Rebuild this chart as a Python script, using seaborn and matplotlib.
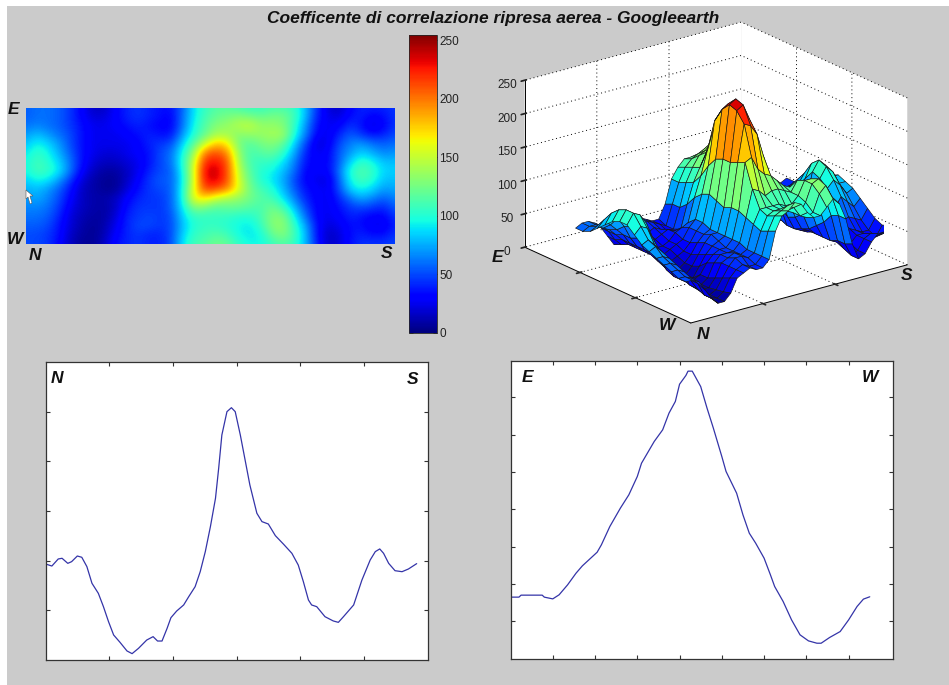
import numpy as np
import pandas as pd
import matplotlib
matplotlib.use('Agg')
import matplotlib.pyplot as plt
import seaborn as sns
from matplotlib.patches import Rectangle, Polygon

W, H = 949, 685

# correlation map, rows E -> W, columns N -> S
corr_rows = [
    [55, 60, 60, 55, 45, 30, 15, 15, 30, 40, 45, 40, 35, 35, 55, 90, 105, 115, 115, 110, 105, 105, 110, 110, 105, 80, 45, 20, 15, 30, 40, 40, 40, 45],
    [55, 60, 60, 55, 45, 30, 20, 20, 30, 40, 45, 40, 35, 30, 60, 90, 110, 120, 125, 130, 125, 120, 125, 125, 110, 80, 40, 25, 20, 35, 40, 30, 35, 45],
    [60, 65, 60, 55, 45, 35, 25, 25, 30, 35, 40, 35, 30, 30, 60, 95, 115, 130, 135, 145, 150, 135, 135, 130, 105, 70, 35, 25, 30, 45, 35, 20, 30, 45],
    [70, 80, 70, 60, 50, 35, 25, 25, 25, 30, 35, 40, 35, 35, 70, 100, 120, 140, 140, 130, 135, 135, 140, 140, 100, 65, 30, 25, 40, 55, 45, 35, 40, 50],
    [80, 95, 85, 70, 50, 35, 25, 25, 25, 25, 30, 40, 45, 50, 85, 115, 150, 180, 170, 125, 115, 125, 130, 120, 85, 50, 20, 25, 50, 65, 70, 60, 55, 60],
    [90, 105, 95, 75, 55, 35, 25, 20, 20, 25, 30, 35, 50, 60, 95, 135, 200, 212, 195, 135, 110, 115, 120, 105, 75, 40, 25, 30, 55, 70, 85, 75, 65, 70],
    [95, 110, 100, 85, 60, 35, 20, 15, 15, 20, 25, 35, 50, 60, 100, 150, 222, 228, 212, 140, 110, 105, 105, 90, 65, 35, 30, 30, 55, 85, 105, 95, 80, 80],
    [95, 110, 105, 90, 60, 30, 15, 8, 8, 15, 25, 40, 50, 55, 95, 155, 234, 240, 212, 150, 115, 100, 95, 80, 60, 30, 30, 30, 60, 100, 115, 105, 85, 85],
    [85, 95, 90, 70, 45, 20, 10, 5, 5, 15, 30, 45, 55, 55, 90, 155, 230, 236, 212, 155, 120, 100, 90, 75, 50, 30, 25, 20, 55, 95, 110, 100, 80, 80],
    [75, 80, 70, 55, 35, 15, 10, 5, 5, 20, 35, 45, 50, 55, 95, 160, 215, 210, 195, 160, 125, 110, 100, 80, 55, 35, 30, 25, 50, 85, 95, 85, 70, 75],
    [70, 75, 65, 50, 30, 15, 10, 10, 15, 30, 40, 45, 45, 55, 95, 165, 170, 150, 140, 135, 125, 115, 110, 90, 65, 40, 30, 25, 40, 60, 75, 65, 55, 65],
    [65, 65, 60, 45, 25, 15, 10, 8, 15, 35, 45, 45, 45, 55, 90, 130, 125, 115, 120, 120, 115, 110, 125, 110, 80, 50, 30, 25, 35, 45, 50, 45, 40, 55],
    [60, 60, 55, 40, 20, 12, 8, 8, 20, 40, 45, 50, 45, 50, 85, 105, 105, 105, 105, 100, 100, 110, 130, 130, 95, 60, 30, 25, 30, 40, 35, 30, 30, 45],
    [55, 55, 50, 35, 20, 10, 5, 10, 25, 40, 50, 50, 45, 50, 80, 100, 105, 105, 100, 95, 90, 105, 130, 135, 105, 75, 35, 20, 25, 35, 35, 25, 25, 40],
    [50, 50, 45, 35, 15, 8, 5, 12, 30, 40, 45, 40, 40, 50, 85, 105, 110, 115, 110, 95, 90, 95, 120, 130, 110, 80, 35, 15, 20, 35, 40, 35, 35, 45],
    [50, 50, 45, 30, 15, 5, 5, 15, 35, 40, 45, 40, 40, 50, 90, 110, 115, 125, 120, 105, 95, 95, 105, 115, 105, 80, 40, 15, 20, 35, 45, 45, 45, 50],
]
cbar_ticks = [0, 50, 100, 150, 200, 250]
z_ticks = [0, 50, 100, 150, 200, 250]

# profile N -> S
ns_x = [0, 10, 20, 26, 35, 41, 50, 57, 65, 73, 83, 91, 99, 107, 117, 128, 136, 146, 159, 169, 176, 183, 191, 197,
        206, 217, 225, 235, 243, 251, 259, 267, 272, 277, 285, 292, 298, 306, 314, 321, 332, 340, 350, 361, 374,
        387, 397, 405, 413, 418, 426, 439, 452, 460, 468, 484, 497, 510, 518, 525, 531, 539, 549, 560, 570, 583]
ns_y = [96.7, 94.6, 101.7, 102.4, 97.3, 99, 104.7, 103.4, 94, 77.2, 67.1, 53.7, 38.6, 25.2, 17.8, 9.1, 6.4, 11.7,
        20.1, 23.5, 19.1, 19.1, 31.9, 42.6, 49.3, 55.4, 63.8, 73.8, 88.9, 109.1, 134.2, 162.8, 193, 226.5, 250,
        254, 250, 226.5, 199.7, 176.2, 147.7, 139.3, 136.9, 125.2, 116.5, 107.4, 95.6, 78.9, 60.4, 55.4, 53.7,
        43.6, 39.3, 37.9, 43.6, 55.4, 80.5, 100.7, 109.1, 111.8, 107.4, 97.3, 89.9, 88.9, 91.6, 97]

# profile E -> W
ew_x = [0, 4, 5, 15, 16, 20, 23, 27, 31, 34, 41, 43, 47, 52, 56, 60, 62, 68, 72, 75, 78, 80, 83, 84, 86, 90, 93,
        96, 100, 102, 107, 110, 113, 116, 120, 123, 125, 129, 133, 137, 141, 145, 147, 151, 156, 160, 164, 167, 170]
ew_y = [52.6, 52.6, 54.3, 54.3, 52.6, 51.1, 54.6, 63.1, 73.1, 79.4, 91.1, 97.4, 113.1, 128.9, 140.3, 156, 167.4,
        186, 196, 210.3, 220.3, 235.1, 242.6, 246.3, 246.3, 233.1, 214.6, 197.4, 173.1, 160.3, 141.7, 123.1, 107.4,
        98.9, 86, 71.7, 61.7, 48.9, 33.1, 20.3, 15.1, 13.1, 13.1, 18, 23.1, 33.1, 44.6, 50.9, 52.9]

sns.set_theme(style='ticks')
plt.rcParams['font.family'] = ['Liberation Sans', 'DejaVu Sans']
plt.rcParams['grid.linestyle'] = (0, (1, 3))
plt.rcParams['grid.color'] = 'black'
plt.rcParams['grid.linewidth'] = 0.7

jet = matplotlib.colormaps['jet']
grey = '#cbcbcb'
corr = np.array(corr_rows, dtype=float)

fig = plt.figure(figsize=(W / 100, H / 100), dpi=100, facecolor='white')
fig.add_artist(Rectangle((7 / W, 0), 1, 1 - 6 / H, transform=fig.transFigure, facecolor=grey, edgecolor='none',
                         zorder=-5))


def px_axes(x0, y0, x1, y1, **kw):
    return fig.add_axes([x0 / W, 1 - y1 / H, (x1 - x0) / W, (y1 - y0) / H], **kw)


def label(x, y, s, size=12.5):
    fig.text(x / W, 1 - y / H, s, ha='center', va='center', fontsize=size, fontweight='bold',
             fontstyle='italic', color='#111111')


# heat map
ax_map = px_axes(26, 107.5, 395, 244.5)
im = ax_map.imshow(corr, cmap=jet, vmin=0, vmax=255, aspect='auto', interpolation='bicubic')
ax_map.set_xlim(0, corr.shape[1] - 1)
ax_map.set_ylim(corr.shape[0] - 1, 0)
ax_map.axis('off')

# colour bar
ax_cb = px_axes(409, 34.5, 437, 332.5)
cb = fig.colorbar(im, cax=ax_cb, ticks=cbar_ticks)
cb.outline.set_linewidth(0.6)
cb.ax.tick_params(direction='in', left=True, right=True, length=3, width=0.6, labelsize=8.5, pad=1.5,
                  labelcolor='#222222')

# surface
ax3 = fig.add_axes([491.3 / W, 1 - 349.7 / H, 440 / W, 345 / H], projection='3d', proj_type='ortho',
                   facecolor='none')
rows = np.arange(corr.shape[0])
cols = np.arange(corr.shape[1])
Y, X = np.meshgrid(cols, rows)
ax3.plot_surface(X, Y, corr, cmap=jet, vmin=0, vmax=255, rstride=1, cstride=1, edgecolor='#161616',
                 linewidth=0.45, shade=False, antialiased=True)
ax3.view_init(elev=20.5, azim=-37.5)
ax3.set_box_aspect((1, 1, 0.653), zoom=1.196)
ax3.set_xlim(-5.87, 16.69)
ax3.set_ylim(-1.2, 32.65)
ax3.set_zlim(0, 250)
ax3.set_xticks([1.65, 9.17])
ax3.set_yticks([10.08, 21.37])
ax3.set_zticks(z_ticks)
ax3.set_xticklabels([])
ax3.set_yticklabels([])
ax3.zaxis.set_ticks_position('lower')
ax3.tick_params(axis='z', labelsize=8.5, pad=-2, colors='#222222')
for axis in (ax3.xaxis, ax3.yaxis, ax3.zaxis):
    axis.set_pane_color((1, 1, 1, 1))
    axis.pane.set_edgecolor('none')
    axis.line.set_color('black')
    axis.line.set_linewidth(0.7)

# profiles
ax_ns = px_axes(45.5, 362, 427.5, 660)
sns.lineplot(data=pd.DataFrame({'pos': ns_x, 'val': ns_y}), x='pos', y='val', ax=ax_ns, color='#3434a8',
             linewidth=0.9, estimator=None, sort=False)
ax_ns.set_xlim(0, 600)
ax_ns.set_ylim(0, 300)
ax_ns.set_xticks([100, 200, 300, 400, 500])
ax_ns.set_yticks([50, 100, 150, 200, 250])

ax_ew = px_axes(510.5, 361, 893, 658.5)
sns.lineplot(data=pd.DataFrame({'pos': ew_x, 'val': ew_y}), x='pos', y='val', ax=ax_ew, color='#3434a8',
             linewidth=0.9, estimator=None, sort=False)
ax_ew.set_xlim(0, 181)
ax_ew.set_ylim(0, 255)
ax_ew.set_xticks([20, 40, 60, 80, 100, 120, 140, 160])
ax_ew.set_yticks([32, 64, 96, 128, 160, 192, 224])

for ax in (ax_ns, ax_ew):
    ax.set_xlabel('')
    ax.set_ylabel('')
    ax.set_facecolor('white')
    ax.tick_params(direction='in', top=True, right=True, length=3, width=0.8, color='#333333',
                   labelbottom=False, labelleft=False)
    for sp in ax.spines.values():
        sp.set_visible(True)
        sp.set_linewidth(0.9)
        sp.set_color('#333333')

# title and compass letters
fig.text(493 / W, 1 - 18.5 / H, 'Coefficente di correlazione ripresa aerea - Googleearth', ha='center', va='center',
         fontsize=12.5, fontweight='bold', fontstyle='italic', color='#111111')
for x, y, s in [(14, 110, 'E'), (15, 240, 'W'), (35, 256, 'N'), (387, 254, 'S'),
                (497, 258, 'E'), (667, 325, 'W'), (703, 335, 'N'), (907, 276, 'S'),
                (57, 379, 'N'), (413, 380, 'S'), (528, 377, 'E'), (870, 378, 'W')]:
    label(x, y, s)

# mouse pointer left in the screenshot
cursor = [(26, 190), (26, 199), (28, 197), (30, 204), (32, 203), (30, 196), (33, 196)]
fig.add_artist(Polygon([(a / W, 1 - b / H) for a, b in cursor], transform=fig.transFigure, facecolor='white',
                       edgecolor='#555555', linewidth=0.4, zorder=5))

fig.savefig('out.png', dpi=100)
